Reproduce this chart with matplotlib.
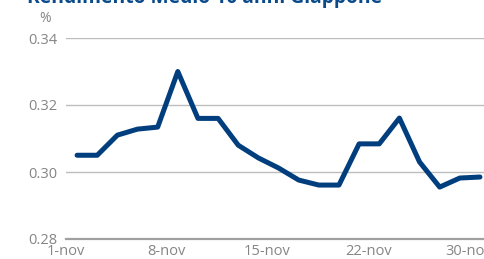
import matplotlib.pyplot as plt

# Rendimento Medio 10 anni Giappone, daily values (%)
labels = ['1-nov', '8-nov', '15-nov', '22-nov', '30-nov']
label_idx = [0, 5, 10, 15, 20]
values = [0.305, 0.305, 0.311, 0.3128, 0.3134, 0.330, 0.316, 0.316, 0.308,
          0.3042, 0.3012, 0.2976, 0.2961, 0.2961, 0.3084, 0.3084, 0.3161,
          0.303, 0.2955, 0.2982, 0.2985]
title = 'Rendimento Medio 10 anni Giappone'

plt.rcParams['font.family'] = ['Open Sans', 'DejaVu Sans']

W, H = 484, 259
fig = plt.figure(figsize=(W / 100, H / 100), dpi=100)
ax = fig.add_axes([66 / W, (H - 239) / H, (W - 66) / W, (239 - 38) / H])

x = list(range(len(values)))
ax.plot(x, values, color='#003e7e', lw=3.6, solid_capstyle='round', zorder=3)

ax.set_xlim(-0.3, 20.2)
ax.set_ylim(0.28, 0.34)
ax.set_yticks([0.28, 0.30, 0.32, 0.34])
ax.set_yticklabels(['0.28', '0.30', '0.32', '0.34'])
ax.set_xticks([i - 0.55 for i in label_idx])
ax.set_xticklabels(labels)

for s in ['top', 'right', 'left']:
    ax.spines[s].set_visible(False)
ax.spines['bottom'].set_color('#a0a0a0')
ax.spines['bottom'].set_linewidth(1.6)
ax.grid(axis='y', color='#bdbdbd', lw=1.0)
ax.set_axisbelow(True)
ax.tick_params(axis='both', length=0, labelsize=10.5, colors='#858585')
ax.tick_params(axis='y', pad=6)
ax.tick_params(axis='x', pad=3.5)

fig.text(45 / W, 1 - 19 / H, '%', color='#858585', fontsize=10,
         ha='center', va='center')
fig.text(27 / W, 1 - 3 / H, title, color='#0a4a8a', fontsize=13.9,
         fontweight='bold', ha='left', va='baseline')

fig.savefig('out.png', dpi=100)
